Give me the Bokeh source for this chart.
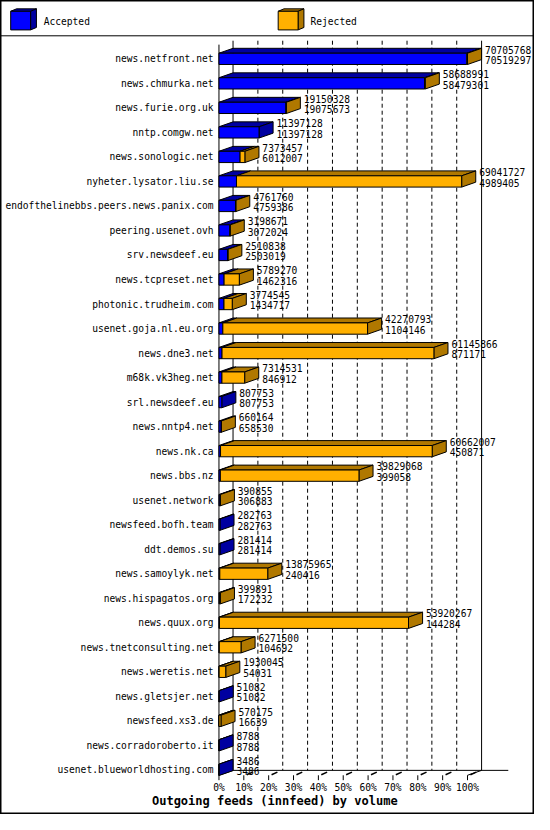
from bokeh.plotting import figure
from bokeh.models import Range1d
from bokeh.core.properties import value
from bokeh.embed import file_html
from bokeh.resources import INLINE

# ---------------- data ----------------
hosts = [
    "news.netfront.net", "news.chmurka.net", "news.furie.org.uk", "nntp.comgw.net",
    "news.sonologic.net", "nyheter.lysator.liu.se", "endofthelinebbs.peers.news.panix.com",
    "peering.usenet.ovh", "srv.newsdeef.eu", "news.tcpreset.net", "photonic.trudheim.com",
    "usenet.goja.nl.eu.org", "news.dne3.net", "m68k.vk3heg.net", "srl.newsdeef.eu",
    "news.nntp4.net", "news.nk.ca", "news.bbs.nz", "usenet.network", "newsfeed.bofh.team",
    "ddt.demos.su", "news.samoylyk.net", "news.hispagatos.org", "news.quux.org",
    "news.tnetconsulting.net", "news.weretis.net", "news.gletsjer.net", "newsfeed.xs3.de",
    "news.corradoroberto.it", "usenet.blueworldhosting.com",
]
offered = [
    70705768, 58688991, 19150328, 11397128, 7373457, 69041727, 4761760, 3198671, 2510838,
    5789270, 3774545, 42270793, 61145866, 7314531, 807753, 660164, 60662007, 39829068,
    390855, 282763, 281414, 13875965, 399891, 53920267, 6271500, 1930045, 51082, 570175,
    8788, 3486,
]
accepted = [
    70519297, 58479301, 19075673, 11397128, 6012007, 4989405, 4759386, 3072024, 2503019,
    1462316, 1434717, 1104146, 871171, 846912, 807753, 658530, 450871, 399058, 306883,
    282763, 281414, 240416, 172232, 144284, 104692, 54031, 51082, 16639, 8788, 3486,
]
tick_values = [0, 10, 20, 30, 40, 50, 60, 70, 80, 90, 100]
tick_labels = ["0%", "10%", "20%", "30%", "40%", "50%", "60%", "70%", "80%", "90%", "100%"]
legend_labels = ["Accepted", "Rejected"]
title_text = "Outgoing feeds (innfeed) by volume"

# ---------------- style / layout ----------------
BLUE, DBLUE = "#0000ff", "#0000a0"
ORANGE, DORANGE = "#ffb000", "#b07800"
FONT = value("DejaVu Sans Mono")
FS = value("9.6px")

W, H = 534, 814
REF_W, REF_H = 550, 830
X0, PX = 225.0, 2.56       # front plane: 0% at px 225, 2.56 px per percent
Y0, RY = 59.5, 25.0        # first row centre and row pitch (px)


def xd(px):
    return (px - X0) / PX


def yd(py):
    return (py - Y0) / RY


DX = 14.5 / PX      # 3-D depth (x)
DY = -5.0 / RY      # 3-D depth (y, upwards)
HALF = 5.75 / RY    # half bar height

p = figure(width=W, height=H, output_backend="svg", toolbar_location=None,
           x_range=Range1d(xd(0), xd(REF_W)), y_range=Range1d(yd(REF_H), yd(0)),
           x_axis_location=None, y_axis_location=None,
           min_border=0, min_border_left=0, min_border_right=0,
           min_border_top=0, min_border_bottom=0)
p.grid.visible = False
p.outline_line_color = "black"
p.outline_line_width = 2
p.background_fill_color = "white"
p.border_fill_color = "white"

# legend separator
p.segment(x0=[xd(0)], y0=[yd(36)], x1=[xd(REF_W)], y1=[yd(36)], line_color="black", line_width=1)

# back wall grid lines
top_back, floor_back, floor_front, top_front = yd(41), yd(785), yd(790), yd(45)
dashed = tick_values[1:-1]
p.segment(x0=[v + DX for v in dashed], y0=[top_back] * len(dashed),
          x1=[v + DX for v in dashed], y1=[floor_back] * len(dashed),
          line_color="black", line_width=1, line_dash="4 3")
solid = [tick_values[0], tick_values[-1]]
p.segment(x0=[v + DX for v in solid], y0=[top_back] * 2,
          x1=[v + DX for v in solid], y1=[floor_back] * 2, line_color="black", line_width=1)
# front-left axis line and floor
p.segment(x0=[0], y0=[top_front], x1=[0], y1=[floor_front], line_color="black", line_width=1)
p.segment(x0=[DX, 0, 100], y0=[floor_back, floor_front, floor_front],
          x1=[xd(523), DX, 100 + DX], y1=[floor_back, floor_back, floor_back],
          line_color="black", line_width=1)
# ticks
p.segment(x0=tick_values, y0=[floor_front] * len(tick_values),
          x1=tick_values, y1=[yd(795)] * len(tick_values), line_color="black", line_width=1)
p.segment(x0=[v + 3 / PX for v in tick_values[1:]], y0=[yd(789.5)] * 10,
          x1=[v + 9 / PX for v in tick_values[1:]], y1=[yd(786.8)] * 10,
          line_color="black", line_width=1.6)

# ---------------- bars ----------------
M = max(offered)
pt = [o / M * 100 for o in offered]
pa = [a / M * 100 for a in accepted]
rows = list(range(len(hosts)))

fb = dict(l=[], r=[], t=[], b=[])
fo = dict(l=[], r=[], t=[], b=[])
tb_xs, tb_ys, to_xs, to_ys = [], [], [], []
sb_xs, sb_ys, so_xs, so_ys = [], [], [], []
for i, (t, a) in enumerate(zip(pt, pa)):
    yt, yb = i - HALF, i + HALF
    fb["l"].append(0); fb["r"].append(a); fb["t"].append(yt); fb["b"].append(yb)
    tb_xs.append([0, a, a + DX, DX]); tb_ys.append([yt, yt, yt + DY, yt + DY])
    side_x = [t, t + DX, t + DX, t]
    side_y = [yt, yt + DY, yb + DY, yb]
    if t > a:
        fo["l"].append(a); fo["r"].append(t); fo["t"].append(yt); fo["b"].append(yb)
        to_xs.append([a, t, t + DX, a + DX]); to_ys.append([yt, yt, yt + DY, yt + DY])
        so_xs.append(side_x); so_ys.append(side_y)
    else:
        sb_xs.append(side_x); sb_ys.append(side_y)

p.patches(tb_xs, tb_ys, fill_color=DBLUE, line_color="black", line_width=1)
p.patches(to_xs, to_ys, fill_color=DORANGE, line_color="black", line_width=1)
p.patches(sb_xs, sb_ys, fill_color=DBLUE, line_color="black", line_width=1)
p.patches(so_xs, so_ys, fill_color=DORANGE, line_color="black", line_width=1)
p.quad(left=fb["l"], right=fb["r"], top=fb["t"], bottom=fb["b"],
       fill_color=BLUE, line_color="black", line_width=1)
p.quad(left=fo["l"], right=fo["r"], top=fo["t"], bottom=fo["b"],
       fill_color=ORANGE, line_color="black", line_width=1)

# ---------------- texts ----------------
p.text(x=[0] * len(hosts), y=rows, text=hosts, x_offset=-5.5, text_align="right",
       text_baseline="middle", text_font=FONT, text_font_size=FS, text_color="black")
vx = [t + 18 / PX for t in pt]
p.text(x=vx, y=[i - 9.5 / RY for i in rows], text=[str(o) for o in offered],
       text_align="left", text_baseline="middle", text_font=FONT, text_font_size=FS,
       text_color="black")
p.text(x=vx, y=[i + 1.2 / RY for i in rows], text=[str(a) for a in accepted],
       text_align="left", text_baseline="middle", text_font=FONT, text_font_size=FS,
       text_color="black")
p.text(x=tick_values, y=[yd(802)] * len(tick_values), text=tick_labels,
       text_align="center", text_baseline="middle", text_font=FONT, text_font_size=FS,
       text_color="black")
p.text(x=[xd(282.5)], y=[yd(816)], text=[title_text], text_align="center",
       text_baseline="middle", text_font=FONT, text_font_size=value("12px"),
       text_font_style="bold", text_color="black")

# ---------------- legend (3-D boxes) ----------------
for (lx, tx), fcol, dcol, lab in zip([(10.5, 44.5), (286.0, 319.3)], [BLUE, ORANGE],
                                      [DBLUE, DORANGE], legend_labels):
    l, r, tp, bt = xd(lx), xd(lx + 20.5), yd(11), yd(30)
    ddx, ddy = 6 / PX, -2.5 / RY
    p.patches([[l, r, r + ddx, l + ddx], [r, r + ddx, r + ddx, r]],
              [[tp, tp, tp + ddy, tp + ddy], [tp, tp + ddy, bt + ddy, bt]],
              fill_color=dcol, line_color="black", line_width=1)
    p.quad(left=[l], right=[r], top=[tp], bottom=[bt], fill_color=fcol,
           line_color="black", line_width=1)
    p.text(x=[xd(tx)], y=[yd(21)], text=[lab], text_align="left", text_baseline="middle",
           text_font=FONT, text_font_size=FS, text_color="black")

open("out.html", "w").write(file_html(p, INLINE))
